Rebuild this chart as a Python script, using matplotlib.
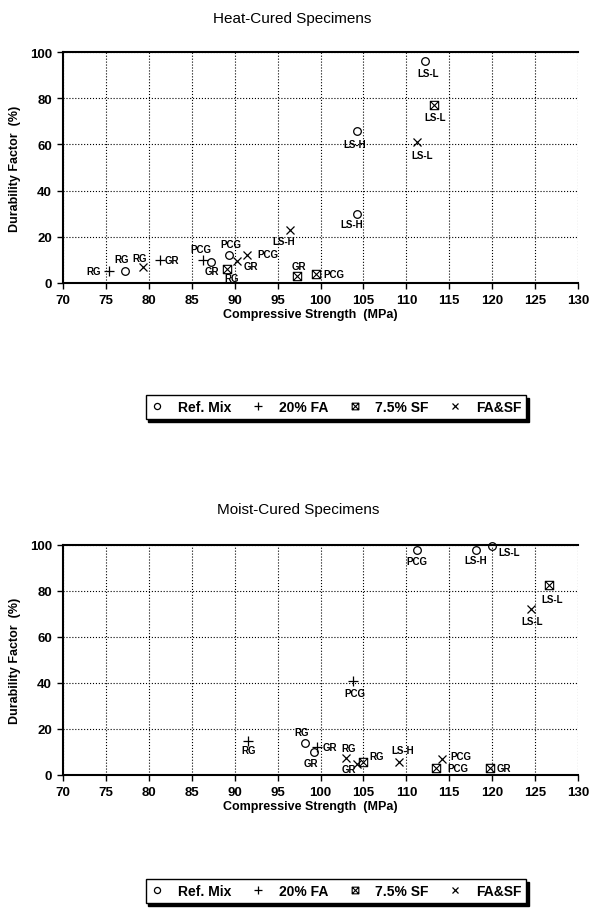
import matplotlib
matplotlib.use('Agg')
import matplotlib.pyplot as plt
from matplotlib.path import Path
from matplotlib.lines import Line2D

plt.rcParams['font.family'] = ['Liberation Sans', 'DejaVu Sans']

# ---- data: heat-cured ----
ref_heat_x = [77.2, 87.2, 89.3, 104.3, 104.3, 112.2]
ref_heat_y = [5, 9, 12, 66, 30, 96]
ref_heat_lab = ['RG', 'GR', 'PCG', 'LS-H', 'LS-H', 'LS-L']

fa_heat_x = [75.4, 81.3, 86.3]
fa_heat_y = [5, 10, 10]
fa_heat_lab = ['RG', 'GR', 'PCG']

sf_heat_x = [89.1, 97.3, 99.5, 113.2]
sf_heat_y = [6, 3, 4, 77]
sf_heat_lab = ['RG', 'GR', 'PCG', 'LS-L']

fas_heat_x = [79.3, 90.3, 91.4, 96.4, 111.2]
fas_heat_y = [7, 9.5, 12, 23, 61]
fas_heat_lab = ['RG', 'GR', 'PCG', 'LS-H', 'LS-L']

# ---- data: moist-cured ----
ref_moist_x = [98.2, 99.3, 111.2, 118.1, 120.0]
ref_moist_y = [14, 10, 98, 98, 99.5]
ref_moist_lab = ['RG', 'GR', 'PCG', 'LS-H', 'LS-L']

fa_moist_x = [91.5, 99.6, 103.8]
fa_moist_y = [15, 12, 41]
fa_moist_lab = ['RG', 'GR', 'PCG']

sf_moist_x = [104.9, 113.5, 119.8, 126.6]
sf_moist_y = [5.5, 3, 3, 82.5]
sf_moist_lab = ['RG', 'PCG', 'GR', 'LS-L']

fas_moist_x = [103.0, 104.3, 109.2, 114.2, 124.5]
fas_moist_y = [7.5, 5, 5.5, 7, 72]
fas_moist_lab = ['RG', 'GR', 'LS-H', 'PCG', 'LS-L']

series_names = ['Ref. Mix', '20% FA', '7.5% SF', 'FA&SF']
x_ticks = list(range(70, 131, 5))
y_ticks = list(range(0, 101, 20))

# label offsets in pixels (placement only)
off_heat = [
    [(-3, 12), (1, -9), (2, 11), (-3, -13), (-6, -10), (3, -12)],
    [(-16, 0), (12, 0), (-2, 11)],
    [(5, -9), (2, 10), (18, 0), (1, -12)],
    [(-3, 9), (14, -5), (21, 1), (-6, -11), (5, -13)],
]
off_moist = [
    [(-3, 11), (-4, -11), (0, -11), (0, -10), (17, -6)],
    [(1, -10), (13, 0), (2, -12)],
    [(14, 6), (21, 0), (13, 0), (3, -14)],
    [(2, 10), (-9, -6), (3, 12), (18, 3), (1, -12)],
]

# square with an X inside for the SF series
sq_x = Path([(-1, -1), (1, -1), (1, 1), (-1, 1), (-1, -1),
             (-1, -1), (1, 1), (-1, 1), (1, -1)],
            [Path.MOVETO, Path.LINETO, Path.LINETO, Path.LINETO, Path.CLOSEPOLY,
             Path.MOVETO, Path.LINETO, Path.MOVETO, Path.LINETO])

styles = [
    dict(marker='o', markersize=5.5, mfc='none', mec='k', mew=0.9),
    dict(marker='+', markersize=7, mec='k', mew=0.9),
    dict(marker=sq_x, markersize=6, mfc='none', mec='k', mew=0.8),
    dict(marker='x', markersize=6, mec='k', mew=0.9),
]

fig = plt.figure(figsize=(5.9, 9.12), dpi=100)
ax1 = fig.add_axes([63/590, 1-284/912, 515/590, 231/912])
ax2 = fig.add_axes([63/590, 1-776/912, 515/590, 230/912])


def draw(ax, groups, offsets):
    for (xs, ys, labs), st, offs in zip(groups, styles, offsets):
        ax.plot(xs, ys, linestyle='none', clip_on=False, zorder=3, **st)
        for x, y, lab, o in zip(xs, ys, labs, offs):
            ax.annotate(lab, (x, y), xytext=o, textcoords='offset pixels',
                        ha='center', va='center', fontsize=7, fontweight='bold')
    ax.set_xlim(70, 130)
    ax.set_ylim(0, 100)
    ax.set_xticks(x_ticks)
    ax.set_yticks(y_ticks)
    ax.grid(True, color='k', linestyle=':', linewidth=0.8)
    ax.set_axisbelow(True)
    ax.spines['right'].set_visible(False)
    for s in ['left', 'bottom', 'top']:
        ax.spines[s].set_linewidth(1.5)
    ax.tick_params(direction='out', length=4, width=1, labelsize=9.5, pad=4)
    for t in ax.get_xticklabels() + ax.get_yticklabels():
        t.set_fontweight('bold')
    ax.set_xlabel('Compressive Strength  (MPa)', fontsize=9, fontweight='bold', labelpad=1)
    ax.xaxis.set_label_coords(0.48, -0.11)
    ax.set_ylabel('Durability Factor  (%)', fontsize=9, fontweight='bold', labelpad=6)


draw(ax1, [(ref_heat_x, ref_heat_y, ref_heat_lab), (fa_heat_x, fa_heat_y, fa_heat_lab),
           (sf_heat_x, sf_heat_y, sf_heat_lab), (fas_heat_x, fas_heat_y, fas_heat_lab)], off_heat)
draw(ax2, [(ref_moist_x, ref_moist_y, ref_moist_lab), (fa_moist_x, fa_moist_y, fa_moist_lab),
           (sf_moist_x, sf_moist_y, sf_moist_lab), (fas_moist_x, fas_moist_y, fas_moist_lab)], off_moist)

fig.text(292/590, 1-19/912, 'Heat-Cured Specimens', ha='center', va='center', fontsize=11)
fig.text(298/590, 1-510/912, 'Moist-Cured Specimens', ha='center', va='center', fontsize=11)

handles = [Line2D([], [], linestyle='none', **dict(st, markersize=st['markersize'] * 0.8))
           for st in styles]
for ycen in [408, 892]:
    leg = fig.legend(handles, series_names, ncol=4, loc='center',
                     bbox_to_anchor=(336/590, 1-ycen/912), frameon=True, fancybox=False,
                     shadow={'color': 'k', 'alpha': 1}, edgecolor='k', framealpha=1,
                     prop={'weight': 'bold', 'size': 10}, handlelength=1.0,
                     handletextpad=1.0, columnspacing=1.4, borderpad=0.35)
    leg.get_frame().set_linewidth(1.0)

fig.savefig('out.png', dpi=100)
